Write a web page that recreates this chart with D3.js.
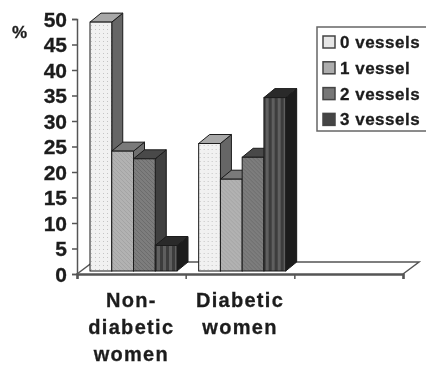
<!DOCTYPE html>
<html lang="en">
<head>
<meta charset="utf-8">
<title>vessels</title>
<script src="https://cdn.jsdelivr.net/npm/d3@7"></script>
<style>
body { margin: 0; background: #fff; }
svg { display: block; }
text { font-family: "Liberation Sans", Arial, sans-serif; font-weight: bold; fill: #1c1c1c; stroke: #1c1c1c; stroke-width: 0.3px; }
</style>
</head>
<body>
<svg width="426" height="365"></svg>
<script>
const categories = ["Non-diabetic women", "Diabetic women", ""];
const categoryLines = [["Non-", "diabetic", "women"], ["Diabetic", "women"], []];
const seriesNames = ["0 vessels", "1 vessel", "2 vessels", "3 vessels"];
const nonDiabetic = [48.8, 23.5, 22, 5];
const diabetic = [25, 18, 22.3, 34];
const yTicks = [0, 5, 10, 15, 20, 25, 30, 35, 40, 45, 50];

const barValues = [nonDiabetic, diabetic];
const fronts = ["url(#dots)", "url(#hatch1)", "url(#hatch2)", "url(#stripes)"];
const sides = ["#666", "#6e6e6e", "#3f3f3f", "#1f1f1f"];
const tops = ["#a8a8a8", "#7a7a7a", "#4a4a4a", "#2c2c2c"];
const swatches = ["#e6e6e6", "#adadad", "#777", "#444"];

const depthX = 11, depthY = -9;      // bar depth
const floorX = 16, floorY = -12;     // floor depth
const insetX = 2, insetY = -3;       // bar front sits a little behind the axis plane

const svg = d3.select("svg");
const defs = svg.append("defs");

const dots = defs.append("pattern").attr("id", "dots").attr("patternUnits", "userSpaceOnUse")
    .attr("width", 4).attr("height", 4);
dots.append("rect").attr("width", 4).attr("height", 4).attr("fill", "#f1f1f1");
dots.append("rect").attr("width", 1).attr("height", 1).attr("fill", "#c4c4c4");

function hatch(id, bg, fg) {
    const p = defs.append("pattern").attr("id", id).attr("patternUnits", "userSpaceOnUse")
        .attr("width", 4).attr("height", 4);
    p.append("rect").attr("width", 4).attr("height", 4).attr("fill", bg);
    p.append("path").attr("d", "M0,0L4,4M-1,3L1,5M3,-1L5,1")
        .attr("stroke", fg).attr("stroke-width", 1);
}
hatch("hatch1", "#b2b2b2", "#a4a4a4");
hatch("hatch2", "#7d7d7d", "#6c6c6c");

const stripes = defs.append("pattern").attr("id", "stripes").attr("patternUnits", "userSpaceOnUse")
    .attr("width", 6).attr("height", 4);
stripes.append("rect").attr("width", 6).attr("height", 4).attr("fill", "#3c3c3c");
stripes.append("rect").attr("width", 3).attr("height", 4).attr("fill", "#5e5e5e");

const soft = defs.append("filter").attr("id", "soft");
soft.append("feGaussianBlur").attr("stdDeviation", 0.5);

const y = d3.scaleLinear().domain([0, 50]).range([274, 19]);
const xBand = d3.scaleBand().domain(categories).range([77, 403]);
const xTick = d3.scaleLinear().domain([0, 3]).range([77, 403]);
const xSeries = d3.scaleBand().domain(seriesNames).range([11, 98]);

const g = svg.append("g").attr("filter", "url(#soft)");

// floor
const [x0, x1] = xBand.range();
g.append("path")
    .attr("d", d3.line()([[x0, y(0)], [x0 + floorX, y(0) + floorY], [x1 + floorX, y(0) + floorY], [x1, y(0)]]))
    .attr("fill", "none").attr("stroke", "#555").attr("stroke-width", 1.5);

// axes
const yAxis = g.append("g").attr("transform", `translate(${x0},0)`)
    .call(d3.axisLeft(y).tickValues(yTicks).tickSize(5).tickPadding(5));
yAxis.selectAll("text").style("font-size", "21px").attr("dy", "0.35em");
yAxis.selectAll("line,path").attr("stroke", "#555").attr("stroke-width", 1.5);

const xAxis = g.append("g").attr("transform", `translate(0,${y(0)})`)
    .call(d3.axisBottom(xTick).ticks(3).tickSize(5).tickFormat(""));
xAxis.selectAll("line").attr("stroke", "#555").attr("stroke-width", 1.5);
xAxis.select("path").attr("stroke", "#555").attr("stroke-width", 2.5);

// bars, left to right so each front covers the side of the one before
barValues.forEach(function (vals, c) {
    const bars = g.append("g").attr("transform", `translate(${xBand(categories[c]) + insetX},${insetY})`)
        .selectAll("g").data(vals).enter().append("g");
    const left = (d, i) => xSeries(seriesNames[i]);
    const right = (d, i) => left(d, i) + xSeries.bandwidth();

    bars.append("path")
        .attr("d", (d, i) => d3.line()([[right(d, i), y(d)], [right(d, i) + depthX, y(d) + depthY],
            [right(d, i) + depthX, y(0) + depthY], [right(d, i), y(0)]]) + "Z")
        .attr("fill", (d, i) => sides[i]).attr("stroke", "#1a1a1a");
    bars.append("path")
        .attr("d", (d, i) => d3.line()([[left(d, i), y(d)], [left(d, i) + depthX, y(d) + depthY],
            [right(d, i) + depthX, y(d) + depthY], [right(d, i), y(d)]]) + "Z")
        .attr("fill", (d, i) => tops[i]).attr("stroke", "#1a1a1a");
    bars.append("rect")
        .attr("x", left).attr("y", d => y(d))
        .attr("width", xSeries.bandwidth()).attr("height", d => y(0) - y(d))
        .attr("fill", (d, i) => fronts[i]).attr("stroke", "#1a1a1a");
});

// category labels
categoryLines.forEach(function (lines, c) {
    g.append("g").selectAll("text").data(lines).enter().append("text")
        .attr("x", xBand(categories[c]) + xBand.bandwidth() / 2)
        .attr("y", (d, i) => 306.5 + i * 27)
        .attr("text-anchor", "middle")
        .style("font-size", "20px").style("letter-spacing", "1.3px")
        .text(d => d);
});

g.append("text").attr("x", 12).attr("y", 38).style("font-size", "17px").text("%");

// legend
const legend = g.append("g").attr("transform", "translate(317,27)");
legend.append("rect").attr("width", 120).attr("height", 104)
    .attr("fill", "#fff").attr("stroke", "#666").attr("stroke-width", 1.5);
const items = legend.selectAll("g").data(seriesNames).enter().append("g")
    .attr("transform", (d, i) => `translate(0,${i * 25.8})`);
items.append("rect").attr("x", 6).attr("y", 9).attr("width", 12).attr("height", 12)
    .attr("fill", (d, i) => swatches[i]).attr("stroke", "#444").attr("stroke-width", 1.5);
items.append("text").attr("x", 23).attr("y", 21)
    .style("font-size", "17px").style("letter-spacing", "0.5px").text(d => d);
</script>
</body>
</html>
